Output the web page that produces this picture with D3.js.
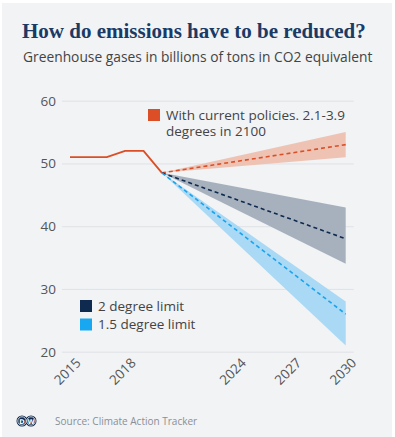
<!DOCTYPE html>
<html>
<head>
<meta charset="utf-8">
<script src="https://cdnjs.cloudflare.com/ajax/libs/d3/7.8.5/d3.min.js"></script>
<style>
  body { margin: 0; background: #ffffff; }
  svg { display: block; }
</style>
</head>
<body>
<svg id="chart"></svg>
<script>
// historical emissions (billions of tons CO2e)
var histYears = [2015, 2016, 2017, 2018, 2019, 2020]
var histValues = [51, 51, 51, 52, 52, 48.5]

// projections 2020 -> 2030: [center, low, high]
var projYears = [2020, 2030]
var currentMid = [48.5, 53], currentLow = [48.5, 51], currentHigh = [48.5, 55]
var twoMid = [48.5, 38], twoLow = [48.5, 34], twoHigh = [48.5, 43]
var oneFiveMid = [48.5, 26], oneFiveLow = [48.5, 21], oneFiveHigh = [48.5, 28]

var xTicks = [2015, 2018, 2024, 2027, 2030]
var yTicks = [20, 30, 40, 50, 60]

var dimensions = {
    width: 395,
    height: 437,
    margin: { top: 100.7, bottom: 85.3, left: 70, right: 49.3 }
}

var svg = d3.select("#chart")
    .attr("width", dimensions.width)
    .attr("height", dimensions.height)

// background panel
svg.append("rect")
    .attr("x", 2).attr("y", 3)
    .attr("width", 390).attr("height", 434)
    .attr("fill", "#f1f3f5")

var xScale = d3.scaleLinear()
    .domain([2015, 2030])
    .range([dimensions.margin.left, dimensions.width - dimensions.margin.right])

var yScale = d3.scaleLinear()
    .domain([20, 60])
    .range([dimensions.height - dimensions.margin.bottom, dimensions.margin.top])

// title + subtitle
svg.append("text")
    .attr("x", 22).attr("y", 38)
    .attr("font-family", "Liberation Serif, serif")
    .attr("font-weight", "bold")
    .attr("font-size", 21)
    .attr("fill", "#1b3a66")
    .text("How do emissions have to be reduced?")

svg.append("text")
    .attr("x", 23).attr("y", 62)
    .attr("font-family", "Open Sans, sans-serif")
    .attr("font-size", 13.8)
    .attr("fill", "#444")
    .text("Greenhouse gases in billions of tons in CO2 equivalent")

// gridlines + y axis
var yAxisGen = d3.axisLeft(yScale)
    .tickValues(yTicks)
    .tickSize(-(xScale(2030) - xScale(2015) + 16))
    .tickPadding(6)

var yAxis = svg.append("g")
    .attr("transform", "translate(" + (dimensions.margin.left - 8) + ",0)")
    .call(yAxisGen)
yAxis.select(".domain").remove()
yAxis.selectAll("line").attr("stroke", "#dfe2e6")
yAxis.selectAll("text")
    .attr("font-family", "Open Sans, sans-serif")
    .attr("font-size", 13.5)
    .attr("fill", "#555")

// x axis
var xAxisGen = d3.axisBottom(xScale)
    .tickValues(xTicks)
    .tickFormat(d3.format("d"))
    .tickSize(0)

var xAxis = svg.append("g")
    .attr("transform", "translate(0," + (dimensions.height - dimensions.margin.bottom) + ")")
    .call(xAxisGen)
xAxis.select(".domain").remove()
xAxis.selectAll("text")
    .attr("font-family", "Open Sans, sans-serif")
    .attr("font-size", 13.5)
    .attr("fill", "#555")
    .style("text-anchor", "end")
    .attr("dy", 0)
    .attr("transform", "translate(9,10) rotate(-45)")

// bands
var bands = [
    { low: currentLow, high: currentHigh, fill: "#eec3b3" },
    { low: twoLow, high: twoHigh, fill: "#a7b1be" },
    { low: oneFiveLow, high: oneFiveHigh, fill: "#a9d9f4" }
]
var area = d3.area()
    .x(function(d){ return xScale(d.year) })
    .y0(function(d){ return yScale(d.low) })
    .y1(function(d){ return yScale(d.high) })

bands.forEach(function(b){
    var pts = projYears.map(function(y, i){ return { year: y, low: b.low[i], high: b.high[i] } })
    svg.append("path")
        .datum(pts)
        .attr("d", area)
        .attr("fill", b.fill)
})

// dashed projections
var line = d3.line()
    .x(function(d){ return xScale(d[0]) })
    .y(function(d){ return yScale(d[1]) })

var dashed = [
    { vals: currentMid, color: "#dc4f26" },
    { vals: twoMid, color: "#0f2a4f" },
    { vals: oneFiveMid, color: "#1aa3ee" }
]
dashed.forEach(function(s){
    svg.append("path")
        .datum(projYears.map(function(y, i){ return [y, s.vals[i]] }))
        .attr("d", line)
        .attr("fill", "none")
        .attr("stroke", s.color)
        .attr("stroke-width", 1.6)
        .attr("stroke-dasharray", "4,3")
})

// historical line
svg.append("path")
    .datum(histYears.map(function(y, i){ return [y, histValues[i]] }))
    .attr("d", line)
    .attr("fill", "none")
    .attr("stroke", "#dc4f26")
    .attr("stroke-width", 1.8)
    .attr("stroke-linejoin", "round")

// legends
function legendItem(x, y, color, lines){
    svg.append("rect")
        .attr("x", x).attr("y", y)
        .attr("width", 12).attr("height", 12)
        .attr("fill", color)
    lines.forEach(function(l, i){
        svg.append("text")
            .attr("font-family", "Open Sans, sans-serif")
            .attr("font-size", 13.5)
            .attr("fill", "#444")
            .attr("x", x + 18)
            .attr("y", y + 10.5 + i * 16)
            .text(l)
    })
}
legendItem(148, 109, "#dc4f26", ["With current policies. 2.1-3.9", "degrees in 2100"])
legendItem(80, 300, "#0f2a4f", ["2 degree limit"])
legendItem(80, 318.5, "#18a8f2", ["1.5 degree limit"])

// footer
var logo = svg.append("g").attr("transform", "translate(0,421)")
logo.append("circle").attr("cx", 22).attr("cy", 0).attr("r", 5.5).attr("fill", "#0f2a4f")
logo.append("circle").attr("cx", 31).attr("cy", 0).attr("r", 5.5).attr("fill", "#0f2a4f")
logo.append("circle").attr("cx", 22).attr("cy", 0).attr("r", 4.2).attr("fill", "none").attr("stroke", "#fff").attr("stroke-width", 0.8)
logo.append("circle").attr("cx", 31).attr("cy", 0).attr("r", 4.2).attr("fill", "none").attr("stroke", "#fff").attr("stroke-width", 0.8)
logo.append("text").attr("x", 22).attr("y", 2.5).attr("text-anchor", "middle")
    .attr("font-family", "DejaVu Sans, sans-serif").attr("font-weight", "bold")
    .attr("font-size", 6.5).attr("fill", "#fff").text("D")
logo.append("text").attr("x", 31).attr("y", 2.5).attr("text-anchor", "middle")
    .attr("font-family", "DejaVu Sans, sans-serif").attr("font-weight", "bold")
    .attr("font-size", 6.5).attr("fill", "#fff").text("W")

svg.append("text")
    .attr("x", 55).attr("y", 424.5)
    .attr("font-family", "Open Sans, sans-serif")
    .attr("font-size", 10)
    .attr("fill", "#8a8f96")
    .text("Source: Climate Action Tracker")
</script>
</body>
</html>
